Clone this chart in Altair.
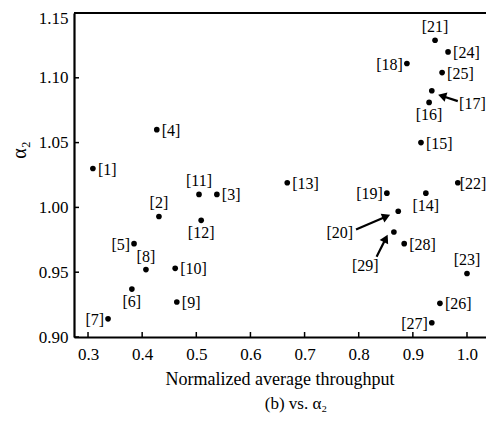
import altair as alt
import pandas as pd

# ---- data ----
labels = [f"[{i}]" for i in range(1, 30)]
throughput = [0.309, 0.431, 0.538, 0.427, 0.385, 0.381, 0.337, 0.407, 0.464, 0.461,
              0.505, 0.509, 0.668, 0.924, 0.915, 0.930, 0.935, 0.889, 0.852, 0.873,
              0.941, 0.983, 1.000, 0.965, 0.954, 0.950, 0.935, 0.884, 0.865]
alpha2 = [1.030, 0.993, 1.010, 1.060, 0.972, 0.937, 0.914, 0.952, 0.927, 0.953,
          1.010, 0.990, 1.019, 1.011, 1.050, 1.081, 1.090, 1.111, 1.011, 0.997,
          1.129, 1.019, 0.949, 1.120, 1.104, 0.926, 0.911, 0.972, 0.981]
placement = ["right", "above", "right", "right", "left", "below", "left", "above", "right", "right",
             "above", "below", "right", "below", "right", "below", "arrow", "left", "left", "arrow",
             "above", "tight", "above", "right", "right", "right", "left", "right", "arrow"]

# arrow annotations (data units): label spot, arrow tail, arrow head
arrow_labels = ["[17]", "[20]", "[29]"]
arrow_label_x = [1.010, 0.765, 0.812]
arrow_label_y = [1.080, 0.980, 0.955]
arrow_tail_x = [0.983, 0.795, 0.833]
arrow_tail_y = [1.082, 0.983, 0.962]
arrow_head_x = [0.954, 0.851, 0.850]
arrow_head_y = [1.086, 0.993, 0.976]
arrow_angle = [287, 67, 27]

x_ticks = [0.3, 0.4, 0.5, 0.6, 0.7, 0.8, 0.9, 1.0]
y_ticks = [0.90, 0.95, 1.00, 1.05, 1.10, 1.15]

W, H = 412, 324
FONT = "Liberation Serif"

df = pd.DataFrame({"x": throughput, "y": alpha2, "label": labels, "pos": placement})
adf = pd.DataFrame({"label": arrow_labels, "lx": arrow_label_x, "ly": arrow_label_y,
                    "tx": arrow_tail_x, "ty": arrow_tail_y, "hx": arrow_head_x,
                    "hy": arrow_head_y, "angle": arrow_angle})

xs = alt.Scale(domain=[0.2741, 1.0351], nice=False, zero=False)
ys = alt.Scale(domain=[0.90, 1.15], nice=False, zero=False)

xax = alt.Axis(values=x_ticks, format=".1f", ticks=False, grid=False, title=None,
               labelFont=FONT, labelFontSize=17, labelColor="black", labelPadding=9,
               domainColor="black", domainWidth=2.2)
yax = alt.Axis(values=y_ticks, format=".2f", ticks=False, grid=False, title=None,
               labelFont=FONT, labelFontSize=17, labelColor="black", labelPadding=6,
               labelOffset={"condition": {"test": "datum.value > 1.14", "value": 5}, "value": 0},
               domainColor="black", domainWidth=2.2)

base = alt.Chart(df)

points = base.mark_point(filled=True, color="black", size=32, opacity=1).encode(
    x=alt.X("x:Q", scale=xs, axis=xax),
    y=alt.Y("y:Q", scale=ys, axis=yax),
)

def txt(pos, **kw):
    return base.transform_filter(alt.datum.pos == pos).mark_text(
        font=FONT, fontSize=16, color="black", **kw
    ).encode(x=alt.X("x:Q", scale=xs), y=alt.Y("y:Q", scale=ys), text="label:N")

t_right = txt("right", align="left", baseline="middle", dx=5, dy=1)
t_tight = txt("tight", align="left", baseline="middle", dx=2, dy=1)
t_left = txt("left", align="right", baseline="middle", dx=-4, dy=1)
t_above = txt("above", align="center", baseline="middle", dy=-13)
t_below = txt("below", align="center", baseline="middle", dy=13)

abase = alt.Chart(adf)
a_text = abase.mark_text(font=FONT, fontSize=16, color="black", align="center",
                         baseline="middle").encode(
    x=alt.X("lx:Q", scale=xs), y=alt.Y("ly:Q", scale=ys), text="label:N")
a_line = abase.mark_rule(color="black", strokeWidth=2.2).encode(
    x=alt.X("tx:Q", scale=xs), y=alt.Y("ty:Q", scale=ys), x2="hx:Q", y2="hy:Q")
a_head = abase.mark_point(shape="triangle-up", filled=True, color="black", size=90,
                          opacity=1).encode(
    x=alt.X("hx:Q", scale=xs), y=alt.Y("hy:Q", scale=ys),
    angle=alt.Angle("angle:Q", scale=None))

tdf_x = pd.DataFrame({"v": x_ticks})
tdf_y = pd.DataFrame({"v": y_ticks})
xtick_marks = alt.Chart(tdf_x).mark_rule(color="black", strokeWidth=1.5).encode(
    x=alt.X("v:Q", scale=xs), y=alt.value(H), y2=alt.value(H - 5))
ytick_marks = alt.Chart(tdf_y).mark_rule(color="black", strokeWidth=1.5).encode(
    y=alt.Y("v:Q", scale=ys), x=alt.value(0), x2=alt.value(5))

top_line = alt.Chart(pd.DataFrame({"a": [0]})).mark_rule(color="black", strokeWidth=2.2).encode(
    x=alt.value(0), x2=alt.value(W), y=alt.value(0))

title_df = pd.DataFrame({"t": ["Normalized average throughput"]})
x_title = alt.Chart(title_df).mark_text(font=FONT, fontSize=18, color="black",
                                        align="center", baseline="alphabetic").encode(
    x=alt.value(206), y=alt.value(372), text="t:N")
sub_df = pd.DataFrame({"t": ["(b) vs. α₂"]})
sub_title = alt.Chart(sub_df).mark_text(font=FONT, fontSize=17, color="black",
                                        align="center", baseline="alphabetic").encode(
    x=alt.value(222), y=alt.value(396), text="t:N")
y_df = pd.DataFrame({"t": ["α₂"]})
y_title = alt.Chart(y_df).mark_text(font=FONT, fontSize=20, color="black", angle=270,
                                    align="center", baseline="middle").encode(
    x=alt.value(-54), y=alt.value(137), text="t:N")

chart = alt.layer(
    points, t_right, t_tight, t_left, t_above, t_below, a_line, a_head, a_text,
    xtick_marks, ytick_marks, top_line, x_title, sub_title, y_title
).properties(
    width=W, height=H,
    autosize=alt.AutoSizeParams(type="none"),
    padding={"left": 66, "top": 5, "right": 0, "bottom": 78},
).configure_view(stroke=None).configure(background="white")

chart.save("out.html", embed_options={"renderer": "svg", "actions": False})
